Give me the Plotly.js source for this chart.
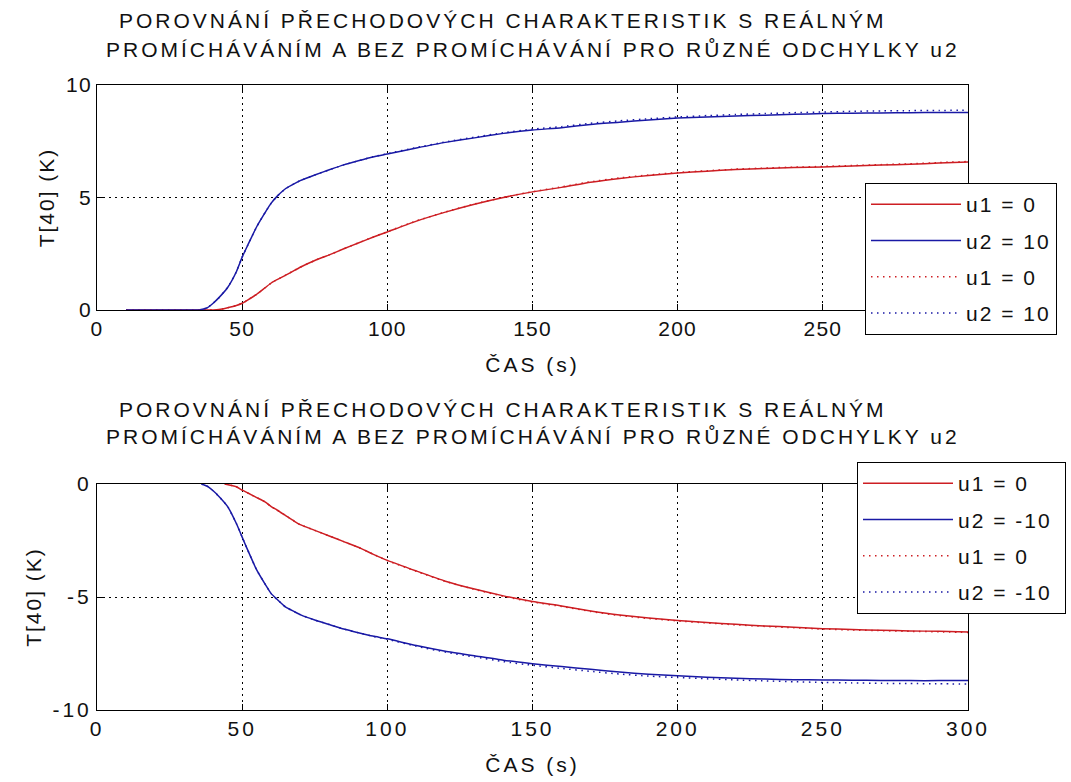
<!DOCTYPE html>
<html>
<head>
<meta charset="utf-8">
<script src="https://cdn.plot.ly/plotly-3.0.1.min.js"></script>
<style>
html,body{margin:0;padding:0;background:#fff;}
svg text{letter-spacing:3px;}
svg g.xtick text, svg g.ytick text{letter-spacing:1.2px;}
svg g.g-ytitle text, svg g.g-y2title text{letter-spacing:2px;}
svg g.legend text, svg g.legend2 text, svg .legendtext{letter-spacing:2px;}
</style>
</head>
<body>
<div id="chart" style="width:1071px;height:782px;"></div>
<script>
// ---------------- DATA ----------------
const titleLine1 = "POROVNÁNÍ PŘECHODOVÝCH CHARAKTERISTIK S REÁLNÝM";
const titleLine2 = "PROMÍCHÁVÁNÍM A BEZ PROMÍCHÁVÁNÍ PRO RŮZNÉ ODCHYLKY u2";
const xLabel = "ČAS (s)";
const yLabel = "T[40] (K)";

// top x-axis: the "300" label is hidden by the legend in the original
const xTopTickVals = [0, 50, 100, 150, 200, 250];
const xTopTickText = ["0", "50", "100", "150", "200", "250"];
const xBotTickVals = [0, 50, 100, 150, 200, 250, 300];
const xBotTickText = ["0", "50", "100", "150", "200", "250", "300"];
const yTopTickVals = [0, 5, 10];
const yTopTickText = ["0", "5", "10"];
const yBotTickVals = [-10, -5, 0];
const yBotTickText = ["-10", "-5", "0"];

// top subplot (u2 = +10)
const tTop = [10, 20, 30, 35, 38, 40, 42, 45, 48, 50, 52, 55, 58, 60, 62, 65, 68, 70, 75, 80, 85, 90, 95, 100, 110, 120, 130, 140, 150, 160, 170, 180, 190, 200, 210, 220, 230, 240, 250, 260, 270, 280, 290, 300];
const topBlueReal = [0, 0, 0, 0, 0.1, 0.3, 0.55, 1.0, 1.7, 2.35, 2.9, 3.7, 4.35, 4.75, 5.05, 5.4, 5.62, 5.75, 6.0, 6.23, 6.45, 6.63, 6.8, 6.93, 7.2, 7.45, 7.65, 7.85, 8.0, 8.1, 8.25, 8.35, 8.45, 8.53, 8.58, 8.62, 8.66, 8.7, 8.73, 8.75, 8.76, 8.77, 8.78, 8.78];
const topRedReal = [0, 0, 0, 0, 0, 0, 0.02, 0.1, 0.2, 0.3, 0.45, 0.7, 1.0, 1.2, 1.35, 1.55, 1.76, 1.9, 2.2, 2.45, 2.72, 2.98, 3.23, 3.47, 3.95, 4.35, 4.7, 5.0, 5.25, 5.45, 5.68, 5.85, 5.98, 6.09, 6.17, 6.24, 6.29, 6.33, 6.36, 6.4, 6.44, 6.48, 6.53, 6.58];
const topBlueIdeal = [0, 0, 0, 0, 0.1, 0.3, 0.55, 1.0, 1.7, 2.35, 2.9, 3.7, 4.35, 4.75, 5.05, 5.4, 5.62, 5.75, 6.0, 6.23, 6.45, 6.63, 6.81, 6.95, 7.22, 7.47, 7.68, 7.88, 8.04, 8.15, 8.3, 8.41, 8.5, 8.58, 8.64, 8.69, 8.73, 8.77, 8.8, 8.83, 8.85, 8.86, 8.87, 8.88];
const topRedIdeal = [0, 0, 0, 0, 0, 0, 0.02, 0.1, 0.2, 0.3, 0.45, 0.7, 1.0, 1.2, 1.35, 1.55, 1.76, 1.9, 2.2, 2.45, 2.72, 2.98, 3.24, 3.48, 3.96, 4.36, 4.71, 5.01, 5.26, 5.47, 5.7, 5.87, 6.0, 6.11, 6.19, 6.26, 6.31, 6.35, 6.38, 6.42, 6.46, 6.5, 6.55, 6.6];

// bottom subplot (u2 = -10)
const tBotBlue = [36, 38, 40, 42, 45, 48, 50, 52, 55, 58, 60, 62, 65, 68, 70, 75, 80, 85, 90, 95, 100, 110, 120, 130, 140, 150, 160, 170, 180, 190, 200, 210, 220, 230, 240, 250, 260, 270, 280, 290, 300];
const botBlueReal = [0, -0.1, -0.3, -0.55, -1.0, -1.75, -2.35, -2.95, -3.8, -4.45, -4.85, -5.1, -5.45, -5.65, -5.78, -6.02, -6.22, -6.42, -6.58, -6.73, -6.85, -7.15, -7.4, -7.6, -7.8, -7.95, -8.08, -8.2, -8.32, -8.42, -8.49, -8.55, -8.6, -8.63, -8.66, -8.67, -8.68, -8.69, -8.7, -8.7, -8.7];
const botBlueIdeal = [0, -0.1, -0.3, -0.55, -1.0, -1.75, -2.35, -2.95, -3.8, -4.45, -4.85, -5.1, -5.45, -5.65, -5.78, -6.02, -6.22, -6.42, -6.58, -6.74, -6.87, -7.18, -7.44, -7.65, -7.86, -8.02, -8.16, -8.29, -8.41, -8.5, -8.56, -8.62, -8.67, -8.71, -8.75, -8.78, -8.8, -8.82, -8.83, -8.84, -8.85];
const tBotRed = [44, 48, 50, 52, 55, 58, 60, 62, 65, 68, 70, 75, 80, 85, 90, 95, 100, 110, 120, 130, 140, 150, 160, 170, 180, 190, 200, 210, 220, 230, 240, 250, 260, 270, 280, 290, 300];
const botRedReal = [0, -0.12, -0.27, -0.4, -0.6, -0.8, -1.0, -1.15, -1.4, -1.65, -1.8, -2.05, -2.3, -2.55, -2.8, -3.1, -3.38, -3.85, -4.3, -4.65, -4.95, -5.2, -5.4, -5.62, -5.8, -5.93, -6.04, -6.13, -6.21, -6.28, -6.34, -6.4, -6.44, -6.47, -6.5, -6.52, -6.55];
const botRedIdeal = [0, -0.12, -0.27, -0.4, -0.6, -0.8, -1.0, -1.15, -1.4, -1.65, -1.8, -2.05, -2.3, -2.55, -2.8, -3.1, -3.39, -3.86, -4.31, -4.66, -4.97, -5.22, -5.42, -5.64, -5.82, -5.95, -6.06, -6.15, -6.23, -6.3, -6.36, -6.42, -6.46, -6.49, -6.52, -6.54, -6.57];

const topNames = ["u1 = 0", "u2 = 10", "u1 = 0", "u2 = 10"];
const botNames = ["u1 = 0", "u2 = -10", "u1 = 0", "u2 = -10"];

// ---------------- STYLE ----------------
const RED = "rgb(205,30,35)";
const BLUE = "rgb(25,25,165)";
const FONT = "Liberation Sans, Arial, sans-serif";
const W = 1071, H = 782;
const M = {l: 97, r: 103, t: 85, b: 72, autoexpand: false};
const plotH = H - M.t - M.b;
const py = (pix) => (H - M.b - pix) / plotH;   // pixel y -> paper y
const px = (pix) => (pix - M.l) / (W - M.l - M.r);

function tr(x, y, name, color, dash, xa, ya, leg, grp) {
  return {x: x, y: y, name: name, type: "scatter", mode: "lines",
    line: {color: color, width: 1.5, shape: "spline", smoothing: 0.5,
      dash: dash === "solid" ? "solid" : "1.5px,4.5px"},
    xaxis: xa, yaxis: ya, legend: leg, legendgroup: grp};
}

const data = [
  tr(tTop, topRedReal, topNames[0], RED, "solid", "x", "y", "legend", "a1"),
  tr(tTop, topBlueReal, topNames[1], BLUE, "solid", "x", "y", "legend", "a2"),
  tr(tTop, topRedIdeal, topNames[2], RED, "dot", "x", "y", "legend", "a3"),
  tr(tTop, topBlueIdeal, topNames[3], BLUE, "dot", "x", "y", "legend", "a4"),
  tr(tBotRed, botRedReal, botNames[0], RED, "solid", "x2", "y2", "legend2", "b1"),
  tr(tBotBlue, botBlueReal, botNames[1], BLUE, "solid", "x2", "y2", "legend2", "b2"),
  tr(tBotRed, botRedIdeal, botNames[2], RED, "dot", "x2", "y2", "legend2", "b3"),
  tr(tBotBlue, botBlueIdeal, botNames[3], BLUE, "dot", "x2", "y2", "legend2", "b4")
];

const TXT = "#111";
function xax(anchor, tv, tt) {
  return {anchor: anchor, domain: [0, 1], range: [0, 300],
    tickmode: "array", tickvals: tv, ticktext: tt,
    ticks: "inside", ticklen: 6, tickcolor: "#000", showline: true, linecolor: "#000", linewidth: 1,
    mirror: "ticks", showgrid: true, gridcolor: "#000", gridwidth: 1, griddash: "1.5px,4.5px",
    zeroline: false, tickfont: {family: FONT, size: 21, color: TXT},
    title: {text: xLabel, font: {family: FONT, size: 21, color: TXT}, standoff: 18},
    automargin: false, layer: "below traces"};
}
function yax(anchor, domain, range, tv, tt) {
  return {anchor: anchor, domain: domain, range: range,
    tickmode: "array", tickvals: tv, ticktext: tt,
    ticks: "inside", ticklen: 6, tickcolor: "#000", showline: true, linecolor: "#000", linewidth: 1,
    mirror: "ticks", showgrid: true, gridcolor: "#000", gridwidth: 1, griddash: "1.5px,4.5px",
    zeroline: false, tickfont: {family: FONT, size: 21, color: TXT},
    title: {text: yLabel, font: {family: FONT, size: 21, color: TXT}, standoff: 5},
    automargin: false, layer: "below traces"};
}

const legendCommon = {xanchor: "left", yanchor: "top", bgcolor: "#fff", bordercolor: "#000", borderwidth: 1,
  font: {family: FONT, size: 21, color: TXT}, itemwidth: 90, traceorder: "grouped", tracegroupgap: 6};

const titleFont = {family: FONT, size: 21, color: TXT};
function ann(text, xc, ypix) {
  return {text: text, xref: "paper", yref: "paper", x: px(xc), y: py(ypix), xanchor: "center", yanchor: "middle",
    showarrow: false, font: titleFont};
}

const layout = {
  width: W, height: H, margin: M, paper_bgcolor: "#fff", plot_bgcolor: "#fff",
  showlegend: true,
  xaxis: xax("y", xTopTickVals, xTopTickText),
  yaxis: yax("x", [py(310), 1], [0, 10], yTopTickVals, yTopTickText),
  xaxis2: xax("y2", xBotTickVals, xBotTickText),
  yaxis2: yax("x2", [0, py(484)], [-10, 0], yBotTickVals, yBotTickText),
  legend: Object.assign({}, legendCommon, {x: px(865), y: py(183)}),
  legend2: Object.assign({}, legendCommon, {x: px(857), y: py(462)}),
  annotations: [
    ann(titleLine1, 503, 21), ann(titleLine2, 533, 50),
    ann(titleLine1, 503, 409), ann(titleLine2, 533, 437)
  ]
};

Plotly.newPlot("chart", data, layout, {displayModeBar: false, staticPlot: true});
</script>
</body>
</html>
